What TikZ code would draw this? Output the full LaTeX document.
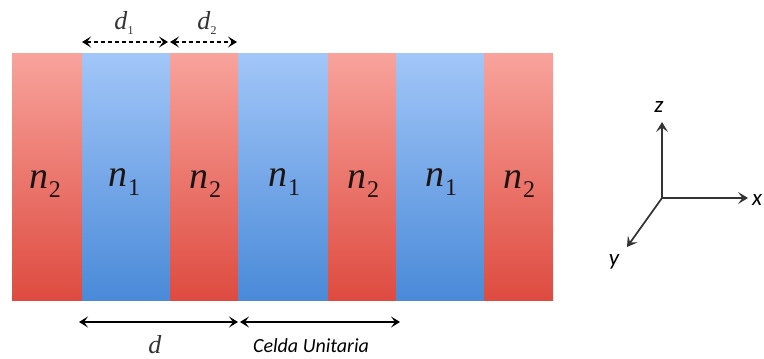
\documentclass[tikz,border=0pt]{standalone}
\usepackage{fontspec}
\newfontfamily\calfont{Carlito}
\newfontfamily\tnr{Liberation Serif}
\usetikzlibrary{arrows.meta}
\definecolor{redtop}{HTML}{F8A39C}
\definecolor{redbot}{HTML}{DE4B40}
\definecolor{bluetop}{HTML}{A2C6F8}
\definecolor{bluebot}{HTML}{4A8AD8}
\definecolor{ntxt}{HTML}{1E1414}
\newcommand\lyrlab[2]{\textit{#1}\kern1pt\raisebox{-0.22em}{\fontsize{24}{26}\selectfont #2}}
\newcommand\dimlab[2]{\textit{#1}\raisebox{-0.2em}{\fontsize{12}{13}\selectfont #2}}
\begin{document}
\begin{tikzpicture}[x=1pt,y=-1pt,
  redlayer/.style={top color=redtop,bottom color=redbot,draw=none},
  bluelayer/.style={top color=bluetop,bottom color=bluebot,draw=none},
  nlab/.style={font=\tnr\fontsize{38}{42}\selectfont,text=ntxt,inner sep=0pt},
  dlab/.style={font=\tnr\fontsize{26}{28}\selectfont,text=black!80,inner sep=0pt},
  axlab/.style={font=\calfont\itshape\fontsize{23}{26}\selectfont,inner sep=0pt},
  dimarrow/.style={{Stealth[length=9pt,width=11pt,inset=4pt]}-{Stealth[length=9pt,width=11pt,inset=4pt]},line width=1.3pt,black},
  dasharrow/.style={dimarrow,dashed,dash pattern=on 4pt off 3pt},
  axis/.style={-{Stealth[length=10pt,width=12pt,inset=4.5pt]},line width=1.7pt,black!80}
]
\useasboundingbox (0,0) rectangle (764,359);
% layers
\path[redlayer]  (12,53) rectangle (82,300);
\path[bluelayer] (82,53) rectangle (170,300);
\path[redlayer]  (170,53) rectangle (238,300);
\path[bluelayer] (238,53) rectangle (328,300);
\path[redlayer]  (328,53) rectangle (396,300);
\path[bluelayer] (396,53) rectangle (484,300);
\path[redlayer]  (484,53) rectangle (553,300);
% labels
\node[nlab] (l1) at (45,184) {\lyrlab{n}{2}};
\node[nlab] (l2) at (124,182) {\lyrlab{n}{1}};
\node[nlab] (l3) at (205,184) {\lyrlab{n}{2}};
\node[nlab] (l4) at (284,182) {\lyrlab{n}{1}};
\node[nlab] (l5) at (363,184) {\lyrlab{n}{2}};
\node[nlab] (l6) at (441,182) {\lyrlab{n}{1}};
\node[nlab] (l7) at (519,184) {\lyrlab{n}{2}};
% dimension arrows top
\coordinate (a1) at (82,42);
\coordinate (a2) at (168,42);
\coordinate (a3) at (170,42);
\coordinate (a4) at (237,42);
\draw[dasharrow] (a1) -- (a2);
\draw[dasharrow] (a3) -- (a4);
\node[dlab] (d1) at (124,23) {\dimlab{d}{1}};
\node[dlab] (d2) at (207,23) {\dimlab{d}{2}};
% bottom arrows
\coordinate (b1) at (79,322);
\coordinate (b2) at (238,322);
\coordinate (b3) at (240,322);
\coordinate (b4) at (400,322);
\draw[dimarrow] (b1) -- (b2);
\draw[dimarrow] (b3) -- (b4);
\node[dlab] (dd) at (155,345) {\textit{d}};
\node[font=\calfont\itshape\fontsize{20}{24}\selectfont,inner sep=0pt] (cu) at (311,346) {Celda Unitaria};
% axes
\coordinate (o) at (662,198);
\coordinate (zt) at (662,122);
\coordinate (xt) at (748,198);
\coordinate (yt) at (627,247);
\draw[axis] (o) -- (zt);
\draw[axis] (o) -- (xt);
\draw[axis] (o) -- (yt);
\node[axlab] (zl) at (659,107) {z};
\node[axlab] (xl) at (757,200) {x};
\node[axlab] (yl) at (614,262) {y};
\end{tikzpicture}
\end{document}
